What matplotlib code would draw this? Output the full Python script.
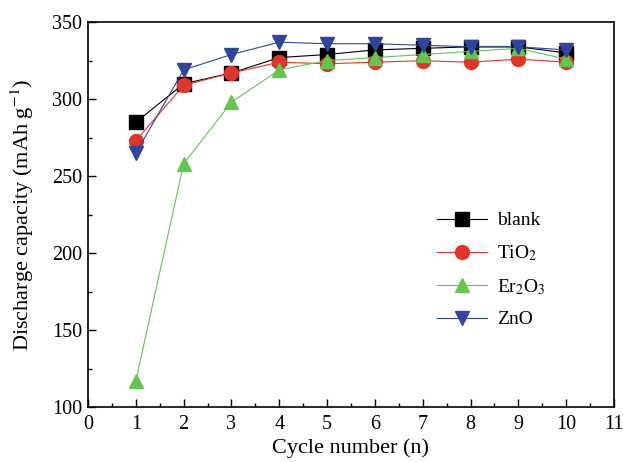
import matplotlib
matplotlib.use("Agg")
import matplotlib.pyplot as plt
from matplotlib.ticker import MultipleLocator

plt.rcParams['font.family'] = ['Liberation Serif', 'DejaVu Serif']
plt.rcParams['mathtext.fontset'] = 'stix'

cycles = [1, 2, 3, 4, 5, 6, 7, 8, 9, 10]
blank = [285, 310, 317, 327, 329, 332, 333, 334, 334, 330]
tio2 = [273, 309, 317, 324, 323, 324, 325, 324, 326, 324]
er2o3 = [117, 258, 298, 319, 325, 327, 329, 331, 333, 326]
zno = [265, 319, 329, 337, 336, 336, 335, 334, 334, 332]

series_labels = ['blank', 'TiO$_2$', 'Er$_2$O$_3$', 'ZnO']
colors = ['#000000', '#e23428', '#62c64f', '#2f45a0']
markers = ['s', 'o', '^', 'v']

fig = plt.figure(figsize=(6.23, 4.62), dpi=100)
ax = fig.add_axes([0.1413, 0.119, 0.8442, 0.833])

for data, lab, c, m in zip([blank, tio2, er2o3, zno], series_labels, colors, markers):
    ax.plot(cycles, data, color=c, marker=m, markersize=10, linewidth=0.8,
            markeredgecolor=c, markerfacecolor=c, label=lab)

ax.set_xlim(0, 11)
ax.set_ylim(100, 350)
ax.xaxis.set_major_locator(MultipleLocator(1))
ax.xaxis.set_minor_locator(MultipleLocator(0.5))
ax.yaxis.set_major_locator(MultipleLocator(50))
ax.yaxis.set_minor_locator(MultipleLocator(25))
ax.tick_params(which='both', direction='in', top=False, right=False, labelsize=14.5)
ax.tick_params(which='major', length=6, width=1)
ax.tick_params(axis='x', which='major', pad=6)
ax.tick_params(axis='y', which='major', pad=4)
ax.tick_params(which='minor', length=3, width=1)
for s in ax.spines.values():
    s.set_linewidth(1.2)

ax.set_xlabel('Cycle number (n)', fontsize=16, labelpad=3)
ax.set_ylabel('Discharge capacity (mAh g$^{-1}$)', fontsize=16, labelpad=12)

ax.legend(loc='center left', bbox_to_anchor=(0.63, 0.356), frameon=False, fontsize=14,
          handlelength=2.6, labelspacing=0.72, handletextpad=0.5)

fig.savefig('out.png', dpi=100)
